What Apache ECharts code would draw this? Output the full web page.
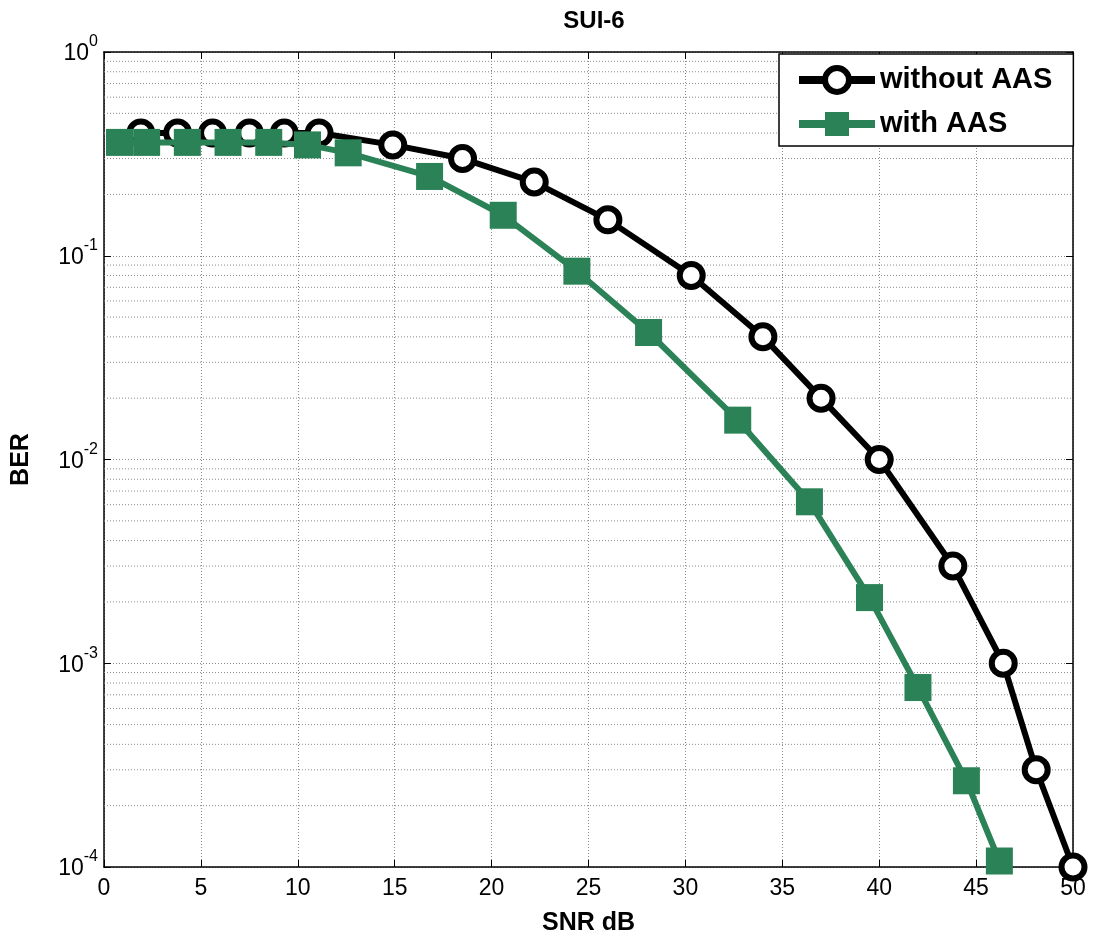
<!DOCTYPE html>
<html>
<head>
<meta charset="utf-8">
<script src="https://cdn.jsdelivr.net/npm/echarts@6/dist/echarts.min.js"></script>
<style>html,body{margin:0;padding:0;background:#fff;}#c{width:1093px;height:941px;}</style>
</head>
<body>
<div id="c"></div>
<script>
var titleText = 'SUI-6';
var xLabel = 'SNR dB';
var yLabel = 'BER';
var seriesNames = ['without AAS', 'with AAS'];

var snrWithout = [1.9, 3.8, 5.6, 7.5, 9.3, 11.1, 14.9, 18.5, 22.2, 26.0, 30.3, 34.0, 37.0, 40.0, 43.8, 46.4, 48.1, 50.0];
var berWithout = [0.40, 0.40, 0.40, 0.40, 0.40, 0.40, 0.35, 0.30, 0.23, 0.15, 0.08, 0.040, 0.020, 0.010, 0.0030, 0.0010, 0.00030, 0.00010];

var snrWith = [0.8, 2.2, 4.3, 6.4, 8.5, 10.5, 12.6, 16.8, 20.6, 24.4, 28.1, 32.7, 36.4, 39.5, 42.0, 44.5, 46.2];
var berWith = [0.36, 0.36, 0.36, 0.36, 0.36, 0.35, 0.32, 0.245, 0.158, 0.084, 0.042, 0.0156, 0.0062, 0.0021, 0.00076, 0.000265, 0.000107];

var minorGridValues = [
  0.0002,0.0003,0.0004,0.0005,0.0006,0.0007,0.0008,0.0009,
  0.002,0.003,0.004,0.005,0.006,0.007,0.008,0.009,
  0.02,0.03,0.04,0.05,0.06,0.07,0.08,0.09,
  0.2,0.3,0.4,0.5,0.6,0.7,0.8,0.9
];
var xRange = [0, 50];

var black = '#000000';
var green = '#2b8256';
var gridColor = '#8a8a8a';
var font = 'Liberation Sans, Arial, sans-serif';

function zip(a, b) { return a.map(function (v, i) { return [v, b[i]]; }); }

var chart = echarts.init(document.getElementById('c'));
var gridLine = { show: true, lineStyle: { color: gridColor, type: [1, 2], width: 1 } };

var minorSeries = minorGridValues.map(function (v) {
  return {
    type: 'line', silent: true, symbol: 'none', z: 1,
    data: [[xRange[0], v], [xRange[1], v]],
    lineStyle: { color: gridColor, type: [1, 2], width: 1 },
    tooltip: { show: false }
  };
});

chart.setOption({
  animation: false,
  backgroundColor: '#fff',
  title: {
    text: titleText, left: 589, top: 4, textAlign: 'center',
    textStyle: { fontFamily: font, fontWeight: 'bold', fontSize: 24, color: '#000' }
  },
  legend: {
    left: 779, top: 54, orient: 'vertical',
    padding: [11, 21, 7, 16],
    backgroundColor: '#fff', borderColor: '#000', borderWidth: 1.5,
    itemWidth: 76, itemHeight: 30, itemGap: 14,
    textStyle: { fontFamily: font, fontWeight: 'bold', fontSize: 29, color: '#000', lineHeight: 30 },
    data: [{
      name: seriesNames[0],
      itemStyle: { color: '#fff', borderColor: black, borderWidth: 6 },
      lineStyle: { color: black, width: 8 }
    }, {
      name: seriesNames[1],
      itemStyle: { color: green, borderWidth: 0 },
      lineStyle: { color: green, width: 8 }
    }]
  },
  grid: { left: 104, right: 20, top: 52, bottom: 74, show: false },
  xAxis: [{
    type: 'value', min: xRange[0], max: xRange[1], interval: 5,
    name: xLabel, nameLocation: 'middle', nameGap: 44,
    nameTextStyle: { fontFamily: font, fontWeight: 'bold', fontSize: 25, color: '#000' },
    axisLine: { onZero: false, lineStyle: { color: '#000', width: 1.5 } },
    axisTick: { inside: true, length: 7, lineStyle: { color: '#000' } },
    axisLabel: { fontFamily: font, fontSize: 23, color: '#000', margin: 10 },
    splitLine: gridLine
  }, {
    type: 'value', min: xRange[0], max: xRange[1], interval: 5, position: 'top',
    axisLine: { onZero: false, lineStyle: { color: '#000', width: 1.5 } },
    axisTick: { inside: true, length: 7, lineStyle: { color: '#000' } },
    axisLabel: { show: false }, splitLine: { show: false }
  }],
  yAxis: [{
    type: 'log', logBase: 10, min: 0.0001, max: 1,
    name: yLabel, nameLocation: 'middle', nameGap: 70, nameRotate: 90,
    nameTextStyle: { fontFamily: font, fontWeight: 'bold', fontSize: 25, color: '#000' },
    axisLine: { onZero: false, lineStyle: { color: '#000', width: 1.5 } },
    axisTick: { inside: true, length: 7, lineStyle: { color: '#000' } },
    axisLabel: {
      margin: 6,
      formatter: function (v) {
        var e = Math.round(Math.log10(v));
        return '{b|10}{s|' + e + '}';
      },
      rich: {
        b: { fontFamily: font, fontSize: 23, color: '#000', verticalAlign: 'middle', padding: [4, 0, 0, 0] },
        s: { fontFamily: font, fontSize: 16, color: '#000', verticalAlign: 'middle', padding: [0, 0, 20, 0] }
      }
    },
    splitLine: gridLine
  }, {
    type: 'log', logBase: 10, min: 0.0001, max: 1, position: 'right',
    axisLine: { onZero: false, lineStyle: { color: '#000', width: 1.5 } },
    axisTick: { inside: true, length: 7, lineStyle: { color: '#000' } },
    axisLabel: { show: false }, splitLine: { show: false }
  }],
  series: minorSeries.concat([{
    name: seriesNames[0], type: 'line', xAxisIndex: 0, yAxisIndex: 0,
    data: zip(snrWithout, berWithout),
    symbol: 'circle', symbolSize: 23, showAllSymbol: true,
    lineStyle: { color: black, width: 6 },
    itemStyle: { color: '#fff', borderColor: black, borderWidth: 6 },
    z: 3
  }, {
    name: seriesNames[1], type: 'line', xAxisIndex: 0, yAxisIndex: 0,
    data: zip(snrWith, berWith),
    symbol: 'rect', symbolSize: 27, showAllSymbol: true,
    lineStyle: { color: green, width: 6 },
    itemStyle: { color: green, borderColor: green, borderWidth: 0 },
    z: 4
  }])
});
</script>
</body>
</html>
